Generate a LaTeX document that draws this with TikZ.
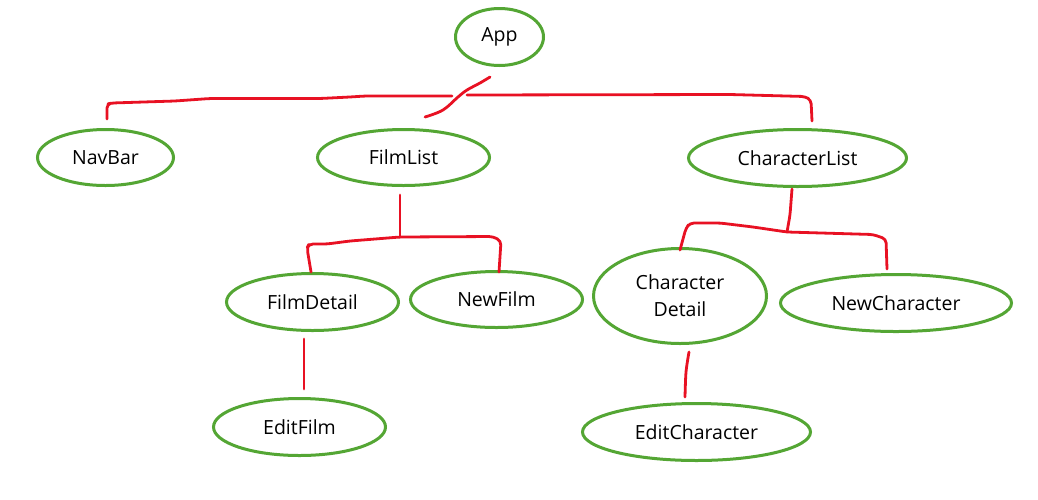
\documentclass[tikz,border=0pt]{standalone}
\usepackage{fontspec}
\setmainfont{Open Sans}
\usetikzlibrary{shapes.geometric}
\definecolor{nodegreen}{RGB}{84,166,52}
\definecolor{wirered}{RGB}{232,17,35}
\begin{document}
\begin{tikzpicture}[x=1pt,y=-1pt,
  comp/.style={ellipse,draw=nodegreen,line width=3pt,inner sep=0pt,
    font=\fontsize{19.5}{27}\selectfont,align=center},
  wire/.style={draw=wirered,line width=2.8pt,line cap=round,line join=round,rounded corners=4pt}]
\useasboundingbox[fill=white] (0,0) rectangle (1038,499);
% components
\node[comp,minimum width=88pt,minimum height=57pt] (app) at (499.5,37) {App};
\node[comp,minimum width=136pt,minimum height=56pt] (navbar) at (105.5,157.5) {NavBar};
\node[comp,minimum width=172pt,minimum height=56pt] (filmlist) at (403.5,157.5) {FilmList};
\node[comp,minimum width=218pt,minimum height=57pt] (charlist) at (797.5,158) {CharacterList};
\node[comp,minimum width=172pt,minimum height=57pt] (filmdetail) at (312.5,302) {FilmDetail};
\node[comp,minimum width=172pt,minimum height=56pt] (newfilm) at (496.5,299.5) {NewFilm};
\node[comp,minimum width=172pt,minimum height=57pt] (editfilm) at (299.5,427) {EditFilm};
\node[comp,minimum width=173pt,minimum height=95pt] (chardetail) at (680,296) {Character\\Detail};
\node[comp,minimum width=231pt,minimum height=57pt] (newchar) at (896,303) {NewCharacter};
\node[comp,minimum width=228pt,minimum height=57pt] (editchar) at (696.5,432) {EditCharacter};
% connector end points
\coordinate (navtop) at (107,119);
\coordinate (barleft) at (452,96);
\coordinate (barright) at (467,95);
\coordinate (charlisttop) at (812,121);
\coordinate (appbottom) at (490,77);
\coordinate (filmlisttop) at (425,117);
\coordinate (filmlistbottom) at (400,195);
\coordinate (filmjoin) at (400,237);
\coordinate (filmdetailtop) at (311,272);
\coordinate (newfilmtop) at (499,272);
\coordinate (filmdetailbottom) at (304,339);
\coordinate (editfilmtop) at (304,389);
\coordinate (charlistbottom) at (792,189);
\coordinate (charjoin) at (787,232);
\coordinate (chardetailtop) at (680,250);
\coordinate (newchartop) at (887,269);
\coordinate (chardetailbottom) at (689,352);
\coordinate (editchartop) at (685,397);
% connectors
\draw[wire] (navtop) -- (107,104) -- (112,103) -- (175,101) -- (210,98.5) -- (320,98.5) -- (350,97) -- (365,96) -- (barleft);
\draw[wire] (barright) -- (730,94.5) -- (805,96.5) -- (811,100) -- (charlisttop);
\draw[wire,rounded corners=0pt] plot[smooth,tension=0.6] coordinates {(filmlisttop) (443,110) (458,97) (467,90) (480,83) (appbottom)};
\draw[wire] (filmlistbottom) -- (filmjoin);
\draw[wire] (filmdetailtop) -- (307,248) -- (309,244) -- (327,244) -- (350,241) -- (filmjoin) -- (493,236.5) -- (501,241) -- (newfilmtop);
\draw[wire] (filmdetailbottom) -- (editfilmtop);
\draw[wire] (charlistbottom) -- (790,215) -- (charjoin);
\draw[wire] (chardetailtop) -- (686,228) -- (690,223) -- (720,223) -- (753,227) -- (charjoin) -- (873,234.5) -- (886,239) -- (newchartop);
\draw[wire,rounded corners=0pt] plot[smooth] coordinates {(chardetailbottom) (686,372) (editchartop)};
\end{tikzpicture}
\end{document}
